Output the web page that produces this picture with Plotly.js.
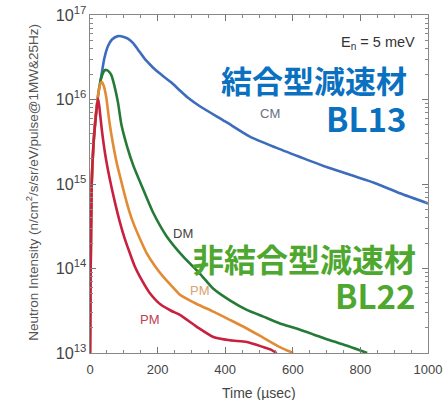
<!DOCTYPE html>
<html>
<head>
<meta charset="utf-8">
<script src="https://cdn.plot.ly/plotly-3.0.1.min.js"></script>
<style>html,body{margin:0;padding:0;background:#fff;}#chart{width:446px;height:400px;}</style>
</head>
<body>
<div id="chart"></div>
<script>
// Time (µsec) and log10 of neutron intensity
const cmTime = [30,34,42,53,65,83,100,112,127,142,162,176,191,215,241,265,290,325,400,473,550,621,700,769,850,917,1000];
const cmLog  = [16.2,16.29,16.48,16.63,16.71,16.75,16.74,16.72,16.67,16.59,16.48,16.42,16.36,16.28,16.2,16.11,16.02,15.92,15.74,15.56,15.43,15.32,15.2,15.11,15.0,14.89,14.77];

const dmTime = [0,2,5,10,15,20,25,30,36,42,48,56,63,73,83,93,110,128,158,187,227,276,325,365,415,464,513,562,611,661,710,765,820];
const dmLog  = [13,14,15,15.45,15.72,15.92,16.08,16.2,16.29,16.34,16.35,16.33,16.29,16.15,15.96,15.7,15.44,15.22,14.93,14.66,14.38,14.14,13.94,13.76,13.62,13.51,13.43,13.35,13.29,13.22,13.15,13.08,13.0];

const pmOTime = [0,2,5,10,15,20,25,30,34,40,48,54,58,66,79,92,104,116,128,148,168,192,217,240,266,316,365,415,464,513,562,601];
const pmOLog  = [13,14,15,15.45,15.72,15.92,16.08,16.18,16.21,16.17,16.03,15.84,15.72,15.52,15.25,15.04,14.85,14.68,14.54,14.35,14.18,14.03,13.9,13.8,13.69,13.58,13.49,13.39,13.29,13.18,13.07,13.0];

const pmRTime = [0,2,5,10,15,20,24,28,35,45,59,74,89,103,118,133,148,175,210,240,266,316,365,414,464,513,535,552];
const pmRLog  = [13,14,15,15.45,15.7,15.9,16.01,15.9,15.64,15.35,15.05,14.78,14.54,14.35,14.18,14.02,13.9,13.72,13.57,13.5,13.45,13.31,13.19,13.15,13.13,13.07,13.04,13.0];

const xTickVals = [0,200,400,600,800,1000];

function toIntensity(logs){ return logs.map(v => Math.pow(10, v)); }

const mk = (x, ylog, color) => ({
  x: x, y: toIntensity(ylog), type: 'scatter', mode: 'lines',
  line: {color: color, width: 2.6, shape: 'spline', smoothing: 0.6},
  hoverinfo: 'skip', showlegend: false
});

const traces = [
  mk(cmTime, cmLog, '#3d6cbc'),
  mk(dmTime, dmLog, '#247a36'),
  mk(pmOTime, pmOLog, '#e38a34'),
  mk(pmRTime, pmRLog, '#c8213f')
];

const f = 'Liberation Sans, Arial, sans-serif';
const jp = 'Noto Sans CJK JP, sans-serif';
const ann = (text, x, y, xa, size, color, family, angle) => ({
  text: text, x: x, y: y, xref: 'paper', yref: 'paper', xanchor: xa, yanchor: 'middle',
  showarrow: false, textangle: angle || 0, font: {family: family || f, size: size, color: color}
});

const layout = {
  width: 446, height: 400,
  margin: {l: 90, r: 18, t: 15, b: 47},
  paper_bgcolor: '#fff', plot_bgcolor: '#fff',
  xaxis: {
    range: [0, 1000], tickvals: xTickVals, ticktext: xTickVals.map(String),
    ticks: 'inside', ticklen: 6, tickcolor: '#777', mirror: 'ticks', ticklabelstandoff: 4,
    showline: true, linecolor: '#888', linewidth: 1, showgrid: false, zeroline: false,
    minor: {dtick: 50, ticks: 'inside', ticklen: 3, tickcolor: '#888', showgrid: false},
    tickfont: {family: f, size: 13, color: '#444'}
  },
  yaxis: {
    type: 'log', range: [13, 17], dtick: 1, exponentformat: 'power',
    ticks: 'inside', ticklen: 6, tickcolor: '#777', mirror: 'ticks',
    showline: true, linecolor: '#888', linewidth: 1, showgrid: false, zeroline: false,
    minor: {dtick: 'D1', ticks: 'inside', ticklen: 3, tickcolor: '#888', showgrid: false},
    tickfont: {family: f, size: 13, color: '#444'}
  },
  annotations: [
    ann('Neutron Intensity (n/cm<sup>2</sup>/s/sr/eV/pulse@1MW&25Hz)', -0.172, 0.506, 'center', 13.5, '#555', f, -90),
    ann('Time (\u00b5sec)', 0.5, -0.118, 'center', 14, '#444'),
    ann('E<sub>n</sub> = 5 meV', 0.967, 0.917, 'right', 14.5, '#333'),
    ann('<b>結合型減速材</b>', 0.944, 0.808, 'right', 31, '#0a70c0', jp),
    ann('<b>BL13</b>', 0.944, 0.695, 'right', 33, '#0a70c0', jp),
    ann('<b>非結合型減速材</b>', 0.97, 0.281, 'right', 32, '#4ea72e', jp),
    ann('<b>BL22</b>', 0.97, 0.172, 'right', 33, '#4ea72e', jp),
    ann('CM', 0.533, 0.710, 'center', 13, '#667085'),
    ann('DM', 0.275, 0.355, 'center', 13, '#444'),
    ann('PM', 0.325, 0.186, 'center', 13, '#d9a070'),
    ann('PM', 0.178, 0.098, 'center', 13, '#c04055')
  ]
};

Plotly.newPlot('chart', traces, layout, {staticPlot: true, displayModeBar: false});
</script>
</body>
</html>
